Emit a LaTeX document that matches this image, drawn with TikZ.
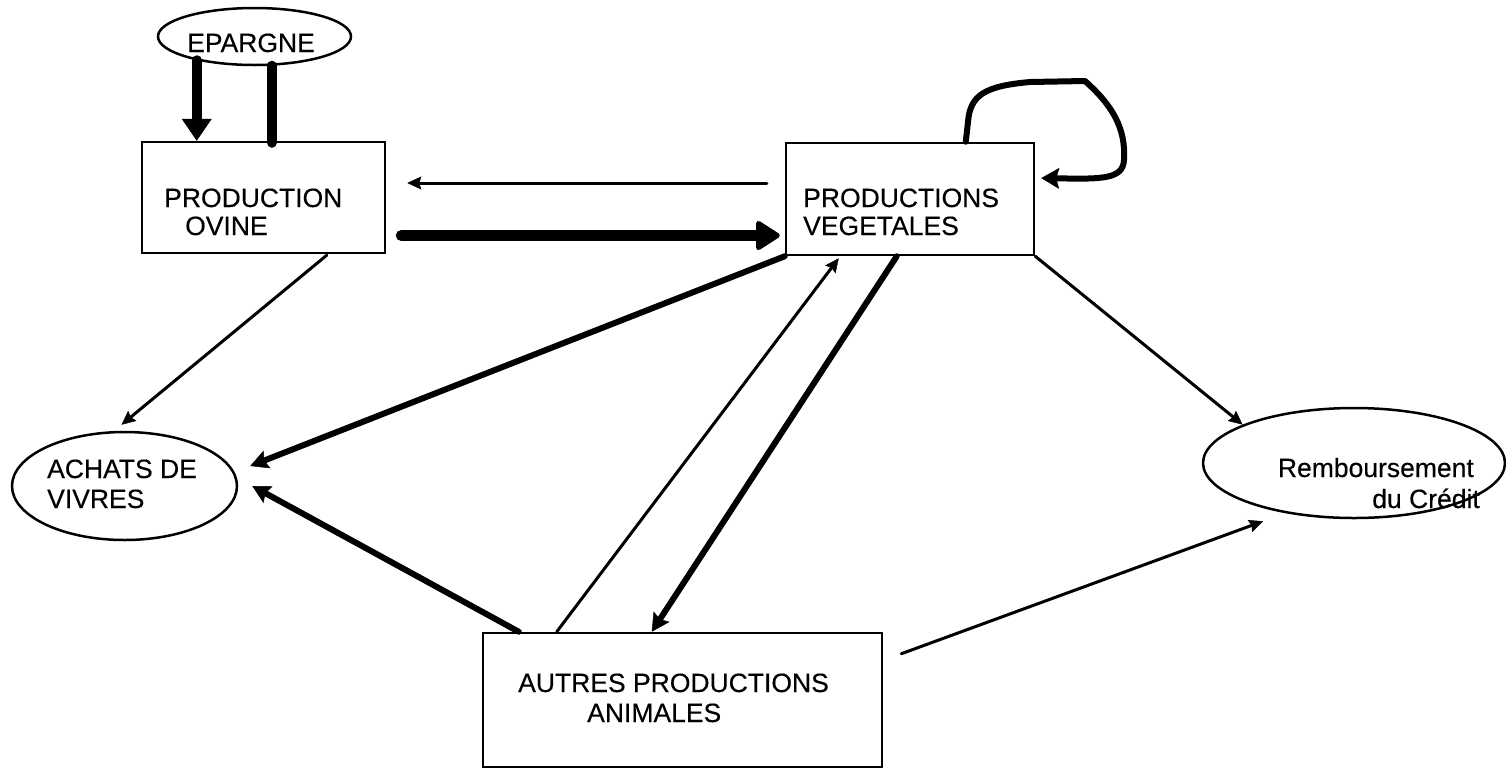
\documentclass[tikz,border=0pt]{standalone}
\usepackage{fontspec}
\setmainfont{Liberation Sans}
\newfontface\lblface{Liberation Sans}[FakeBold=0.3]
\usetikzlibrary{arrows.meta,calc,shapes.geometric}
\begin{document}
\begin{tikzpicture}[x=1pt,y=-1pt,
  box/.style={draw,line width=2.5pt,inner sep=0pt},
  oval/.style={draw,ellipse,line width=2.5pt,inner sep=0pt},
  lbl/.style={inner sep=0pt,font=\lblface\fontsize{26.5}{30}\selectfont},
  thinarrow/.style={line width=3pt,line cap=round,
    -{Stealth[length=14pt,width=13pt,inset=2pt,line width=0.5pt]}},
  heavyarrow/.style={line width=6pt,line cap=round,
    -{Stealth[length=18pt,width=19pt,inset=3pt,line width=0.5pt]}},
  boldarrow/.style={line width=10pt,line cap=round,
    -{Triangle[length=22pt,width=30pt,line width=0.5pt]}},
  blobarrow/.style={line width=11pt,line cap=round,
    -{Triangle[round,length=26pt,width=32pt,line width=5pt]}},
  boldline/.style={line width=10pt,line cap=round},
  loopline/.style={line width=6pt,line join=round,line cap=round,
    -{Stealth[length=18pt,width=21pt,inset=3pt,line width=0.5pt]}}
]
\useasboundingbox (0,0) rectangle (1506,769);

% nodes
\node[oval,minimum width=193pt,minimum height=57pt] (ep) at (254.5,36.5) {};
\node[box,minimum width=243pt,minimum height=111pt] (po) at (263.5,197.5) {};
\node[box,minimum width=248pt,minimum height=112pt] (pv) at (910,199) {};
\node[box,minimum width=399pt,minimum height=134pt] (ap) at (682.5,700) {};
\node[oval,minimum width=225pt,minimum height=108pt] (ach) at (124.5,486) {};
\node[oval,minimum width=302pt,minimum height=110pt] (rem) at (1354,463) {};

% labels
\node[lbl,anchor=base west] (epT) at (187,52) {EPARGNE};
\node[lbl,anchor=base west] (poA) at (164,207) {PRODUCTION};
\node[lbl,anchor=base west] (poB) at (185,235) {OVINE};
\node[lbl,anchor=base west] (pvA) at (803,207) {PRODUCTIONS};
\node[lbl,anchor=base west] (pvB) at (803,235) {VEGETALES};
\node[lbl,anchor=base west] (apA) at (518,692) {AUTRES PRODUCTIONS};
\node[lbl,anchor=base west] (apB) at (587,722) {ANIMALES};
\node[lbl,anchor=base west] (achA) at (47,478) {ACHATS DE};
\node[lbl,anchor=base west] (achB) at (47,508) {VIVRES};
\node[lbl,anchor=base east] (remA) at (1474,477) {Remboursement};
\node[lbl,anchor=base east] (remB) at (1480,508) {du Crédit};

% savings feeding the sheep unit
\coordinate (epa) at ($(po.north west)+(56,0)$);
\coordinate (epb) at ($(po.north west)+(131,0)$);
\draw[boldarrow] (ep.-158 -| epa) -- (epa);
\draw[boldline] (ep.-57 -| epb) -- ($(epb)+(0,2)$);

% exchanges between sheep and crops
\draw[thinarrow,shorten <=18pt,shorten >=21pt]
  ([yshift=16pt]pv.west) -- ([yshift=16pt]pv.west -| po.east);
\draw[blobarrow,shorten <=15pt,shorten >=5pt]
  ([yshift=-38pt]po.east) -- ([yshift=-38pt]po.east -| pv.west);

% crops reinvested in crops
\draw[loopline,shorten >=6pt]
  ($(pv.north west)+(181,0)$) -- (968,122)
  .. controls (970,95) and (985,86) .. (1030,82) -- (1085,81)
  .. controls (1112,105) and (1126,128) .. (1124,160)
  .. controls (1123,180) and (1100,179) .. ([yshift=21pt]pv.east);

% towards food purchases
\draw[thinarrow] ($(po.south west)+(186,1)$) -- ($(ach.north)+(-3,-6)$);
\draw[heavyarrow] (pv.south west) -- ($(ach.east)+(12,-20)$);
\draw[heavyarrow] ($(ap.north west)+(37,0)$) -- ($(ach.east)+(14,0)$);

% crops and other livestock
\draw[thinarrow] ($(ap.north west)+(75,0)$) -- ($(pv.south west)+(54,2)$);
\draw[heavyarrow] ($(pv.south west)+(112,0)$) -- ($(ap.north west)+(170,0)$);

% credit repayment
\draw[thinarrow] (pv.south east) -- (rem.161);
\draw[thinarrow] ($(ap.north east)+(18,22)$) -- ($(rem.south)+(-91,2)$);
\end{tikzpicture}
\end{document}
